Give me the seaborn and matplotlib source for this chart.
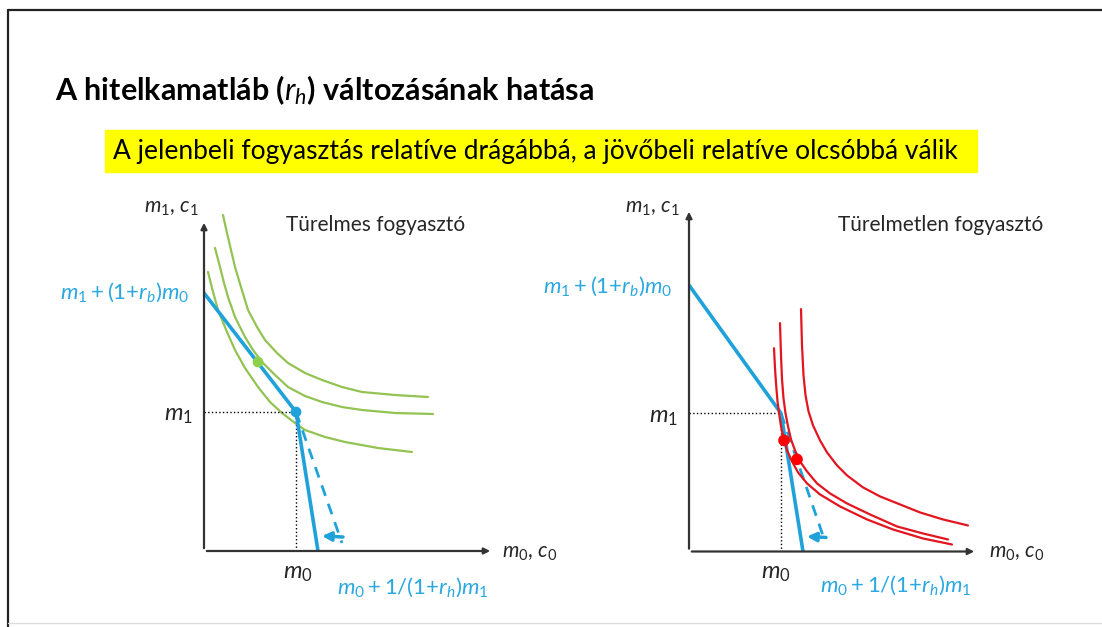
import numpy as np
import pandas as pd
import matplotlib
matplotlib.use('Agg')
import matplotlib.pyplot as plt
import seaborn as sns
from matplotlib.lines import Line2D
from matplotlib.patches import Rectangle

# Adatok (1 egység = 10 px)
# Bal panel: türelmes fogyasztó
bal_budget_x = [0.0, 9.2, 11.4]
bal_budget_y = [25.8, 13.9, 0.0]
bal_dashed_x = [9.2, 13.8]
bal_dashed_y = [13.9, 0.8]
bal_kink = (9.2, 13.9)
bal_green_pt = (5.4, 18.9)
bal_arrow = [(13.9, 1.4), (11.8, 1.5)]

zold_felso_x = [1.9, 2.3, 2.7, 3.1, 3.7, 4.4, 5.3, 6.1, 7.3, 8.4, 10.1, 11.8, 13.8, 15.8, 19.1, 22.4]
zold_felso_y = [33.6, 31.8, 30.1, 28.4, 26.4, 24.1, 22.4, 21.1, 19.8, 18.8, 17.8, 17.1, 16.4, 15.9, 15.6, 15.4]
zold_kozep_x = [1.1, 1.6, 2.0, 2.4, 3.1, 4.1, 4.9, 5.8, 7.1, 8.4, 10.1, 11.8, 13.8, 15.8, 19.1, 22.9]
zold_kozep_y = [30.3, 28.4, 26.8, 25.4, 23.4, 21.4, 20.1, 18.9, 17.6, 16.4, 15.5, 14.9, 14.4, 14.1, 13.8, 13.7]
zold_also_x = [0.4, 0.8, 1.4, 2.3, 3.1, 4.1, 5.4, 6.6, 7.8, 9.1, 10.1, 12.1, 14.1, 17.4, 20.8]
zold_also_y = [27.9, 26.3, 24.1, 21.9, 20.1, 18.3, 16.4, 14.9, 13.8, 12.8, 12.1, 11.4, 10.9, 10.3, 9.9]

# Jobb panel: türelmetlen fogyasztó
jobb_budget_x = [0.0, 9.2, 11.4]
jobb_budget_y = [26.6, 13.8, 0.0]
jobb_dashed_x = [9.2, 13.6]
jobb_dashed_y = [13.8, 1.0]
jobb_kink = (9.2, 13.8)
piros_pontok_x = [9.5, 10.8]
piros_pontok_y = [11.1, 9.2]
jobb_arrow = [(13.7, 1.4), (11.8, 1.5)]

piros_1_x = [8.5, 8.6, 8.7, 8.85, 9.05, 9.25, 9.5, 9.8, 10.3, 10.9, 11.8, 13.1, 15.1, 17.8, 20.4, 23.4, 26.3]
piros_1_y = [20.3, 18.3, 16.8, 15.0, 13.5, 12.2, 11.2, 10.1, 9.0, 7.9, 6.8, 5.7, 4.5, 3.2, 2.2, 1.3, 0.7]
piros_2_x = [9.1, 9.2, 9.3, 9.45, 9.65, 9.9, 10.2, 10.6, 11.1, 11.8, 12.8, 14.1, 15.8, 18.1, 20.8, 23.4, 25.9]
piros_2_y = [22.8, 19.6, 17.2, 15.3, 13.8, 12.5, 11.2, 10.1, 9.0, 8.0, 6.8, 5.8, 4.8, 3.7, 2.5, 1.8, 1.2]
piros_3_x = [11.2, 11.3, 11.45, 11.65, 11.95, 12.4, 13.1, 13.8, 14.8, 15.8, 17.4, 19.1, 21.1, 23.1, 25.4, 27.9]
piros_3_y = [24.2, 20.6, 17.6, 15.6, 14.0, 12.6, 11.1, 9.9, 8.6, 7.6, 6.4, 5.5, 4.7, 3.9, 3.2, 2.6]

# Színek
KEK = '#1fa2da'
KEK_SZOVEG = '#2ba8e0'
ZOLD = '#92c353'
PIROS = '#e3151f'

W, H = 1102, 627

sns.set_style('white')
plt.rcParams['font.family'] = ['Lato', 'DejaVu Sans']
plt.rcParams['mathtext.fontset'] = 'custom'
plt.rcParams['mathtext.it'] = 'Lato:italic'
plt.rcParams['mathtext.rm'] = 'Lato'
plt.rcParams['lines.solid_joinstyle'] = 'round'

fig = plt.figure(figsize=(W / 100, H / 100), dpi=100)
fig.patch.set_facecolor('white')


def fx(px):
    return px / W


def fy(py):
    return 1 - py / H


# Keret
fig.add_artist(Line2D([fx(8), 1], [fy(10), fy(10)], color='#222222', lw=1.6))
fig.add_artist(Line2D([fx(8), fx(8)], [fy(10), 0], color='#222222', lw=1.6))
fig.add_artist(Line2D([fx(8), 1], [fy(623), fy(623)], color='#dddddd', lw=1))

# Cím és sárga doboz
fig.text(fx(55), fy(90), 'A hitelkamatláb ($\\mathit{r_h}$) változásának hatása',
         fontsize=22, fontweight='bold', va='center', ha='left', color='black')
fig.add_artist(Rectangle((fx(105), fy(172)), fx(977) - fx(105), fy(130) - fy(172),
                         transform=fig.transFigure, color='#ffff00', zorder=0))
fig.text(fx(113), fy(152), 'A jelenbeli fogyasztás relatíve drágábbá, a jövőbeli relatíve olcsóbbá válik',
         fontsize=19, va='center', ha='left', color='black')


def panel(ax, xmax, ymax):
    ax.set_xlim(0, xmax)
    ax.set_ylim(0, ymax)
    ax.axis('off')
    # tengelyek nyíllal
    ax.annotate('', xy=(1, 0), xytext=(0, 0), xycoords='axes fraction',
                arrowprops=dict(arrowstyle='-|>', color='#333333', lw=1.6, mutation_scale=9))
    ax.annotate('', xy=(0, 1), xytext=(0, 0), xycoords='axes fraction',
                arrowprops=dict(arrowstyle='-|>', color='#333333', lw=1.6, mutation_scale=9))


def nyil(ax, pontok):
    ax.annotate('', xy=pontok[1], xytext=pontok[0],
                arrowprops=dict(arrowstyle='-|>', color=KEK, lw=2.5, mutation_scale=13,
                                shrinkA=0, shrinkB=0))


# Bal panel
ax1 = fig.add_axes([fx(204), fy(551), 289 / W, 331 / H])
panel(ax1, 28.9, 33.1)
for gx, gy in [(zold_felso_x, zold_felso_y), (zold_kozep_x, zold_kozep_y), (zold_also_x, zold_also_y)]:
    sns.lineplot(x=gx, y=gy, ax=ax1, color=ZOLD, lw=1.6, sort=False, estimator=None).lines[-1].set_clip_on(False)
ax1.plot([0, bal_kink[0]], [bal_kink[1], bal_kink[1]], ls=':', color='black', lw=1)
ax1.plot([bal_kink[0], bal_kink[0]], [0, bal_kink[1]], ls=':', color='black', lw=1)
sns.lineplot(x=bal_budget_x, y=bal_budget_y, ax=ax1, color=KEK, lw=2.6, sort=False, estimator=None)
sns.lineplot(x=bal_dashed_x, y=bal_dashed_y, ax=ax1, color=KEK, lw=2, sort=False, estimator=None,
             linestyle='--')
ax1.lines[-1].set_dashes([4, 3])
sns.scatterplot(x=[bal_green_pt[0]], y=[bal_green_pt[1]], ax=ax1, color='#8ed04c', s=60, edgecolor='none', zorder=5)
sns.scatterplot(x=[bal_kink[0]], y=[bal_kink[1]], ax=ax1, color=KEK, s=60, edgecolor='none', zorder=5)
nyil(ax1, bal_arrow)

# Jobb panel
ax2 = fig.add_axes([fx(689), fy(551.5), 288 / W, 342.5 / H])
panel(ax2, 28.8, 34.2)
ax2.plot([0, jobb_kink[0]], [jobb_kink[1], jobb_kink[1]], ls=':', color='black', lw=1)
ax2.plot([jobb_kink[0], jobb_kink[0]], [0, jobb_kink[1]], ls=':', color='black', lw=1)
sns.lineplot(x=jobb_budget_x, y=jobb_budget_y, ax=ax2, color=KEK, lw=2.6, sort=False, estimator=None)
sns.lineplot(x=jobb_dashed_x, y=jobb_dashed_y, ax=ax2, color=KEK, lw=2, sort=False, estimator=None,
             linestyle='--')
ax2.lines[-1].set_dashes([4, 3])
for rx, ry in [(piros_1_x, piros_1_y), (piros_2_x, piros_2_y), (piros_3_x, piros_3_y)]:
    sns.lineplot(x=rx, y=ry, ax=ax2, color=PIROS, lw=1.6, sort=False, estimator=None)
sns.scatterplot(x=piros_pontok_x, y=piros_pontok_y, ax=ax2, color='#ff0000', s=70, edgecolor='none', zorder=5)
nyil(ax2, jobb_arrow)

# Feliratok
fs = 16
fig.text(fx(171), fy(208), '$m_1$, $c_1$', fontsize=15, ha='center', va='center')
fig.text(fx(376), fy(225), 'Türelmes fogyasztó', fontsize=15, ha='center', va='center')
fig.text(fx(125), fy(292), '$m_1 + (1$+$r_b)m_0$', fontsize=fs, ha='center', va='center', color=KEK_SZOVEG)
fig.text(fx(178), fy(415), '$m_1$', fontsize=17, ha='center', va='center')
fig.text(fx(298), fy(573), '$m_0$', fontsize=17, ha='center', va='center')
fig.text(fx(413), fy(587), '$m_0 + 1/(1$+$r_h)m_1$', fontsize=fs, ha='center', va='center', color=KEK_SZOVEG)
fig.text(fx(530), fy(553), '$m_0$, $c_0$', fontsize=15, ha='center', va='center')

fig.text(fx(652), fy(208), '$m_1$, $c_1$', fontsize=15, ha='center', va='center')
fig.text(fx(941), fy(225), 'Türelmetlen fogyasztó', fontsize=15, ha='center', va='center')
fig.text(fx(608), fy(286), '$m_1 + (1$+$r_b)m_0$', fontsize=fs, ha='center', va='center', color=KEK_SZOVEG)
fig.text(fx(663), fy(417), '$m_1$', fontsize=17, ha='center', va='center')
fig.text(fx(776), fy(573), '$m_0$', fontsize=17, ha='center', va='center')
fig.text(fx(896), fy(585), '$m_0 + 1/(1$+$r_h)m_1$', fontsize=fs, ha='center', va='center', color=KEK_SZOVEG)
fig.text(fx(1017), fy(553), '$m_0$, $c_0$', fontsize=15, ha='center', va='center')

fig.savefig('out.png', dpi=100)
